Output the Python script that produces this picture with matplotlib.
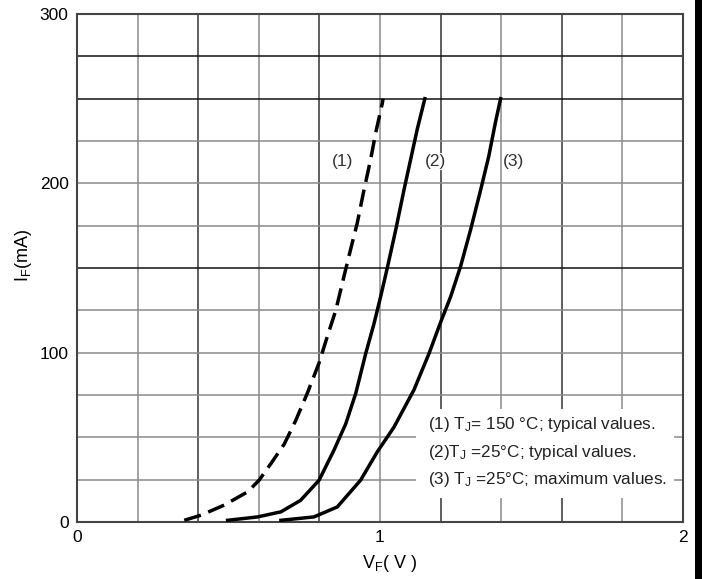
import matplotlib.pyplot as plt
from matplotlib.patches import Rectangle

plt.rcParams['font.family'] = ['Liberation Sans', 'DejaVu Sans']
plt.rcParams['mathtext.fontset'] = 'custom'
plt.rcParams['mathtext.rm'] = 'Liberation Sans'
plt.rcParams['mathtext.it'] = 'Liberation Sans'

# curve (1): Tj = 150 C, typical
vf_1 = [0.354, 0.409, 0.486, 0.563, 0.601, 0.640, 0.684, 0.722, 0.760, 0.799,
        0.826, 0.854, 0.881, 0.903, 0.925, 0.947, 0.969, 0.986, 1.008, 1.010]
if_1 = [1, 4, 10, 17.8, 24.7, 34.5, 46, 60, 76, 94,
        109.5, 125, 145, 161, 176.6, 196, 214, 230, 247.6, 250]

# curve (2): Tj = 25 C, typical
vf_2 = [0.497, 0.596, 0.673, 0.738, 0.799, 0.848, 0.887, 0.920, 0.953, 0.980,
        1.002, 1.024, 1.052, 1.079, 1.101, 1.123, 1.148]
if_2 = [1, 3, 6, 12.8, 24.7, 42.4, 58, 76, 99.6, 117,
        133, 150, 172.6, 196, 214, 232, 250]

# curve (3): Tj = 25 C, maximum
vf_3 = [0.673, 0.782, 0.859, 0.936, 0.991, 1.046, 1.112, 1.162, 1.198, 1.233,
        1.266, 1.299, 1.332, 1.359, 1.381, 1.398]
if_3 = [1, 3, 8.9, 24.7, 41.4, 56, 78, 99.6, 117, 133,
        151, 172.6, 196, 216, 236, 250]

legend_lines = [
    '(1) T$_{\\rm J}$= 150 °C; typical values.',
    '(2)T$_{\\rm J}$ =25°C; typical values.',
    '(3) T$_{\\rm J}$ =25°C; maximum values.',
]

fig = plt.figure(figsize=(7.02, 5.79), dpi=100)
ax = fig.add_axes([77 / 702, 1 - 522 / 579, 606 / 702, 508 / 579])

# grid
for i in range(1, 10):
    x = i * 0.2
    c = '#333333' if i % 2 == 0 else '#8a8a8a'
    ax.axvline(x, color=c, lw=1.1, zorder=1)
for j in range(1, 12):
    y = j * 25
    c = '#111111' if y in (150, 250, 275) else '#8a8a8a'
    ax.axhline(y, color=c, lw=1.1, zorder=1)

kw = dict(color='black', lw=2.5, zorder=3, solid_joinstyle='round',
          dash_joinstyle='round')
ax.plot(vf_1, if_1, ls=(0, (5, 2.3)), **kw)
ax.plot(vf_2, if_2, **kw)
ax.plot(vf_3, if_3, **kw)

for lab, x in [('(1)', 0.876), ('(2)', 1.184), ('(3)', 1.44)]:
    ax.text(x, 213, lab, fontsize=12.5, color='#333333', ha='center', va='center',
            zorder=4, bbox=dict(facecolor='white', edgecolor='none', pad=0.5))

# legend box
ax.add_patch(Rectangle((1.12, 14), 0.85, 53, facecolor='white', edgecolor='none',
                       zorder=2))
for k, t in enumerate(legend_lines):
    ax.text(1.158, 57.5 - k * 16.3, t, fontsize=12.3, color='#222222',
            ha='left', va='center', zorder=4)

ax.set_xlim(0, 2)
ax.set_ylim(0, 300)
ax.set_xticks([0, 1, 2])
ax.set_yticks([0, 100, 200, 300])
ax.tick_params(length=0, labelsize=12.5, pad=6)
for s in ax.spines.values():
    s.set_color('#444444')
    s.set_linewidth(1.5)

ax.set_xlabel('V$_{\\rm F}$( V )', fontsize=13, va='center')
ax.set_ylabel('I$_{\\rm F}$(mA)', fontsize=13, va='center')
ax.xaxis.set_label_coords(0.516, -0.082)
ax.yaxis.set_label_coords(-0.089, 0.525)

# black bar at right edge of the scan
fig.patches.append(Rectangle((695 / 702, 0), 7 / 702, 1, transform=fig.transFigure,
                             facecolor='black', edgecolor='none'))

fig.savefig('out.png', dpi=100)
